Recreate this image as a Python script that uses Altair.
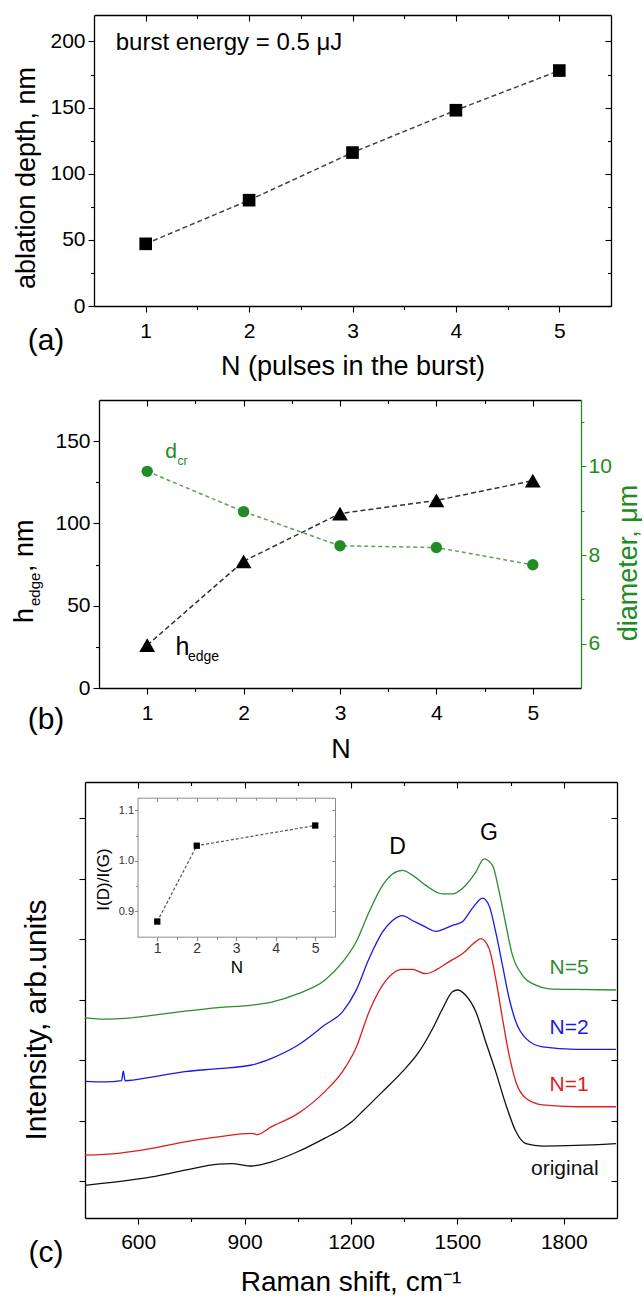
import altair as alt
import pandas as pd

FONT = "Liberation Sans"
BLACK = "#000000"
GREEN = "#218c21"

# ---------------- panel (a): ablation depth vs pulses in the burst
n_a = [1, 2, 3, 4, 5]
depth_a = [47, 80, 116, 148, 178]

# ---------------- panel (b): edge height and crater diameter
n_b = [1, 2, 3, 4, 5]
h_edge = [26, 77, 106, 114, 126]
d_cr = [9.89, 8.98, 8.21, 8.17, 7.78]

# ---------------- panel (c): Raman spectra (offset, arb. units)
orig_x = [450, 544, 638, 732, 826, 863, 920, 976, 1051, 1126, 1176, 1202, 1232, 1289,
          1345, 1392, 1430, 1458, 1486, 1500, 1524, 1552, 1580, 1608, 1637, 1665, 1693,
          1740, 1834, 1947]
orig_y = [-0.07, -0.01, 0.07, 0.18, 0.28, 0.29, 0.25, 0.32, 0.49, 0.71, 0.87, 0.98, 1.15,
          1.48, 1.81, 2.14, 2.52, 2.85, 3.13, 3.16, 3.07, 2.80, 2.30, 1.81, 1.26, 0.82,
          0.62, 0.58, 0.59, 0.62]

n1_x = [450, 544, 638, 732, 826, 920, 934, 976, 1051, 1126, 1176, 1214, 1251, 1289, 1317,
        1345, 1373, 1411, 1439, 1477, 1514, 1552, 1566, 1589, 1608, 1627, 1646, 1665,
        1693, 1740, 1834, 1947]
n1_y = [0.43, 0.46, 0.54, 0.65, 0.73, 0.79, 0.77, 0.90, 1.12, 1.48, 1.81, 2.20, 2.80,
        3.24, 3.43, 3.50, 3.50, 3.43, 3.49, 3.63, 3.76, 3.96, 4.01, 3.85, 3.35, 2.69,
        2.08, 1.64, 1.37, 1.26, 1.23, 1.23]

n2_x = [450, 506, 553, 558, 563, 638, 732, 826, 920, 976, 1051, 1126, 1176, 1214, 1251,
        1289, 1317, 1345, 1373, 1411, 1439, 1458, 1486, 1514, 1542, 1571, 1589, 1608,
        1627, 1646, 1665, 1693, 1740, 1834, 1947]
n2_y = [1.65, 1.64, 1.66, 1.82, 1.66, 1.72, 1.81, 1.86, 1.92, 2.03, 2.25, 2.58, 2.80,
        3.15, 3.68, 4.12, 4.31, 4.39, 4.31, 4.20, 4.13, 4.16, 4.23, 4.29, 4.51, 4.68,
        4.56, 4.12, 3.57, 3.02, 2.63, 2.36, 2.22, 2.18, 2.18]

n5_x = [450, 506, 563, 638, 732, 826, 920, 976, 1051, 1126, 1176, 1214, 1251, 1289, 1317,
        1345, 1373, 1411, 1458, 1486, 1514, 1552, 1575, 1599, 1618, 1637, 1655, 1684,
        1721, 1759, 1834, 1947]
n5_y = [2.70, 2.68, 2.69, 2.74, 2.81, 2.87, 2.91, 2.96, 3.10, 3.32, 3.62, 3.95, 4.45,
        4.89, 5.08, 5.14, 5.06, 4.89, 4.75, 4.75, 4.84, 5.11, 5.33, 5.22, 4.78, 4.23,
        3.74, 3.40, 3.24, 3.18, 3.17, 3.16]

series_names = ["original", "N=1", "N=2", "N=5"]
series_colors = ["#111111", "#e01c1c", "#1a1ae0", "#2e8b2e"]
label_x = [1803, 1815, 1815, 1815]
label_y = [0.20, 1.59, 2.53, 3.52]

band_names = ["D", "G"]
band_x = [1331, 1589]
band_y = [5.52, 5.76]

# inset: I(D)/I(G) ratio
n_in = [1, 2, 5]
ratio_in = [0.88, 1.03, 1.07]

# ---------------- plot area sizes (px)
A_W, A_H = 526, 291
B_W, B_H = 496, 288
C_W, C_H = 532, 436


def lin(domain, rng):
    return alt.Scale(domain=domain, range=rng, nice=False, zero=False)


def axis(orient, offset=0.0, domain=False, values=None, tick=0.0, labels=False,
         color=BLACK, lab_size=21, lab_pad=3, fmt="d", lab_color=None, dwidth=1.3):
    kw = dict(orient=orient, offset=offset, domain=domain, grid=False, title=None,
              minExtent=0, labels=labels, ticks=tick > 0)
    if domain:
        kw.update(domainColor=color, domainWidth=dwidth)
    if values is not None:
        kw["values"] = values
    if tick > 0:
        kw.update(tickSize=tick, tickColor=color, tickWidth=1.1)
    if labels:
        kw.update(labelFont=FONT, labelFontSize=lab_size, labelColor=lab_color or color,
                  labelPadding=lab_pad, format=fmt, labelFlush=False, labelOverlap=False)
    return alt.Axis(**kw)


def carrier(df, xf, yf, xsc, ysc, xax, yax):
    return alt.Chart(df).mark_point(opacity=0, size=1).encode(
        x=alt.X(xf, type="quantitative", scale=xsc, axis=xax),
        y=alt.Y(yf, type="quantitative", scale=ysc, axis=yax),
    )


ONE = pd.DataFrame({"k": [0]})


def label(text, x, y, size, angle=0, color=BLACK, align="center", baseline="middle"):
    return alt.Chart(ONE).mark_text(
        text=text, font=FONT, fontSize=size, angle=angle, color=color,
        align=align, baseline=baseline,
    ).encode(x=alt.value(x), y=alt.value(y))


def anchor(y0, y1):
    return alt.Chart(ONE).mark_rule(color="white", strokeWidth=1).encode(
        x=alt.value(-84.5), x2=alt.value(-84.5), y=alt.value(y0), y2=alt.value(y1))


def resolved(layers, w, h):
    return alt.layer(*layers).resolve_scale(
        x="independent", y="independent", color="independent"
    ).resolve_axis(x="independent", y="independent").properties(width=w, height=h)


# ======================= panel (a)
df_a = pd.DataFrame({"n": n_a, "depth": depth_a})
AL = 9  # left frame offset inside the plot area
xs_a = lambda: lin([0.5, 5.5], [AL, A_W])
ys_a = lambda: lin([0, 220], [A_H, 0])
xa_major = [1, 2, 3, 4, 5]
xa_minor = [1.5, 2.5, 3.5, 4.5]
ya_major = [0, 50, 100, 150, 200]
ya_minor = [25, 75, 125, 175]

a_line = alt.Chart(df_a).mark_line(color="#444444", strokeWidth=1.5, strokeDash=[5, 3]).encode(
    x=alt.X("n:Q", scale=xs_a(), axis=axis("bottom", domain=True, values=xa_major, tick=6,
                                             labels=True, lab_pad=8)),
    y=alt.Y("depth:Q", scale=ys_a(), axis=axis("left", offset=-AL, domain=True, values=ya_major,
                                                 tick=6, labels=True, lab_pad=3)),
)
a_pts = alt.Chart(df_a).mark_point(shape="square", filled=True, size=160, color=BLACK, opacity=1).encode(
    x=alt.X("n:Q", scale=xs_a(), axis=axis("top", domain=True)),
    y=alt.Y("depth:Q", scale=ys_a(), axis=axis("right", domain=True)),
)
a_c1 = carrier(df_a, "n", "depth", xs_a(), ys_a(),
               axis("top", offset=-6, values=xa_major, tick=6),
               axis("right", offset=-6, values=ya_major, tick=6))
a_c2 = carrier(df_a, "n", "depth", xs_a(), ys_a(),
               axis("bottom", values=xa_minor, tick=3.5),
               axis("left", offset=-AL, values=ya_minor, tick=3.5))
a_c3 = carrier(df_a, "n", "depth", xs_a(), ys_a(),
               axis("top", offset=-3.5, values=xa_minor, tick=3.5),
               axis("right", offset=-3.5, values=ya_minor, tick=3.5))
a_note = alt.Chart(pd.DataFrame({"n": [0.71], "v": [199], "t": ["burst energy = 0.5 \u03bcJ"]})).mark_text(
    font=FONT, fontSize=24, align="left", baseline="middle", color=BLACK
).encode(x=alt.X("n:Q", scale=xs_a(), axis=None), y=alt.Y("v:Q", scale=ys_a(), axis=None), text="t:N")

panel_a = resolved([
    anchor(-14, 383), a_line, a_pts, a_c1, a_c2, a_c3, a_note,
    label("ablation depth, nm", -58, 163, 27, angle=270),
    label("(a)", -39, 326, 30),
    label("N (pulses in the burst)", 268, 352, 27),
], A_W, A_H)

# ======================= panel (b)
df_b = pd.DataFrame({"n": n_b, "h": h_edge, "d": d_cr})
BL = 14
xs_b = lambda: lin([0.5, 5.5], [BL, B_W])
ysl_b = lambda: lin([0, 175], [B_H, 0])
ysr_b = lambda: lin([5, 11.5], [B_H, 0])
yb_major = [0, 50, 100, 150]
yb_minor = [25, 75, 125]

b_hline = alt.Chart(df_b).mark_line(color="#333333", strokeWidth=1.5, strokeDash=[5, 3]).encode(
    x=alt.X("n:Q", scale=xs_b(), axis=axis("bottom", domain=True, values=xa_major, tick=6,
                                             labels=True, lab_pad=8)),
    y=alt.Y("h:Q", scale=ysl_b(), axis=axis("left", offset=-BL, domain=True, values=yb_major,
                                              tick=6, labels=True, lab_pad=3)),
)
b_hpts = alt.Chart(df_b).mark_point(shape="triangle-up", filled=True, size=250, color=BLACK, opacity=1).encode(
    x=alt.X("n:Q", scale=xs_b(), axis=axis("top", domain=True)),
    y=alt.Y("h:Q", scale=ysl_b(), axis=None),
)
b_c1 = carrier(df_b, "n", "h", xs_b(), ysl_b(),
               axis("top", offset=-6, values=xa_major, tick=6),
               axis("left", offset=-BL, values=yb_minor, tick=3.5))
b_c2 = carrier(df_b, "n", "h", xs_b(), ysl_b(),
               axis("bottom", values=xa_minor, tick=3.5), None)
b_c3 = carrier(df_b, "n", "h", xs_b(), ysl_b(),
               axis("top", offset=-3.5, values=xa_minor, tick=3.5), None)
b_dline = alt.Chart(df_b).mark_line(color="#5f9f5f", strokeWidth=1.5, strokeDash=[4, 3]).encode(
    x=alt.X("n:Q", scale=xs_b(), axis=None),
    y=alt.Y("d:Q", scale=ysr_b(), axis=axis("right", domain=True, values=[6, 8, 10], tick=5,
                                              labels=True, lab_pad=2, color=GREEN)),
)
b_dpts = alt.Chart(df_b).mark_point(shape="circle", filled=True, size=130, color=GREEN, opacity=1).encode(
    x=alt.X("n:Q", scale=xs_b(), axis=None),
    y=alt.Y("d:Q", scale=ysr_b(), axis=axis("right", values=[7, 9, 11], tick=3, color=GREEN)),
)
# curve names with subscripts
big = pd.DataFrame({"n": [1.186, 1.293], "v": [139.8, 20.2], "t": ["d", "h"],
                    "c": [GREEN, BLACK], "s": [21, 25]})
small = pd.DataFrame({"n": [1.314, 1.423], "v": [135.7, 16.2], "t": ["cr", "edge"],
                      "c": [GREEN, BLACK], "s": [12, 14]})


def name_layer(df):
    return alt.Chart(df).mark_text(font=FONT, align="left", baseline="alphabetic").encode(
        x=alt.X("n:Q", scale=xs_b(), axis=None),
        y=alt.Y("v:Q", scale=ysl_b(), axis=None),
        text="t:N",
        color=alt.Color("c:N", scale=None),
        size=alt.Size("s:Q", scale=None),
    )


panel_b = resolved([
    anchor(0, 380), b_hline, b_dline, b_hpts, b_dpts, b_c1, b_c2, b_c3,
    name_layer(big), name_layer(small),
    label("h", -52, 223, 27, angle=270, align="left", baseline="alphabetic"),
    label("edge", -45, 206, 15, angle=270, align="left", baseline="alphabetic"),
    label(", nm", -52, 172, 27, angle=270, align="left", baseline="alphabetic"),
    label("diameter, \u03bcm", 552, 163, 27, angle=270, color=GREEN, baseline="alphabetic"),
    label("(b)", -39, 320, 30),
    label("N", 256, 350, 27),
], B_W, B_H)

# ======================= panel (c)
rows = []
for name, xs, ys in [("original", orig_x, orig_y), ("N=1", n1_x, n1_y),
                     ("N=2", n2_x, n2_y), ("N=5", n5_x, n5_y)]:
    rows += [{"cm": a, "val": b, "series": name} for a, b in zip(xs, ys)]
spec = pd.DataFrame(rows)
lab_c = pd.DataFrame({"cm": label_x, "val": label_y, "series": series_names})
bands = pd.DataFrame({"cm": band_x, "val": band_y, "t": band_names})
ins = pd.DataFrame({"n": n_in, "r": ratio_in})

xs_c = lambda: lin([450, 1950], [0, C_W])
ys_c = lambda: lin([-0.61, 6.6], [C_H, 0])
xc_major = [600, 900, 1200, 1500, 1800]
xc_minor = [750, 1050, 1350, 1650]
yc_major = [0, 1, 2, 3, 4, 5, 6]
color_c = lambda: alt.Scale(domain=series_names, range=series_colors)

c_lines = alt.Chart(spec).mark_line(strokeWidth=1.3, interpolate="monotone").encode(
    x=alt.X("cm:Q", scale=xs_c(), axis=axis("bottom", domain=True, values=xc_major, tick=6,
                                              labels=True, lab_pad=7)),
    y=alt.Y("val:Q", scale=ys_c(), axis=axis("left", domain=True, values=yc_major, tick=6)),
    color=alt.Color("series:N", scale=color_c(), legend=None),
)
c_c0 = carrier(lab_c, "cm", "val", xs_c(), ys_c(), axis("top", domain=True), axis("right", domain=True))
c_c1 = carrier(lab_c, "cm", "val", xs_c(), ys_c(),
               axis("top", offset=-6, values=xc_major, tick=6),
               axis("right", offset=-6, values=yc_major, tick=6))
c_c2 = carrier(lab_c, "cm", "val", xs_c(), ys_c(), axis("bottom", values=xc_minor, tick=3.5), None)
c_c3 = carrier(lab_c, "cm", "val", xs_c(), ys_c(),
               axis("top", offset=-3.5, values=xc_minor, tick=3.5), None)
c_labels = alt.Chart(lab_c).mark_text(font=FONT, fontSize=21, align="center", baseline="middle").encode(
    x=alt.X("cm:Q", scale=xs_c(), axis=None),
    y=alt.Y("val:Q", scale=ys_c(), axis=None),
    text="series:N",
    color=alt.Color("series:N", scale=color_c(), legend=None),
)
c_bands = alt.Chart(bands).mark_text(font=FONT, fontSize=23, align="center", baseline="middle",
                                     color=BLACK).encode(
    x=alt.X("cm:Q", scale=xs_c(), axis=None),
    y=alt.Y("val:Q", scale=ys_c(), axis=None),
    text="t:N",
)

# inset frame inside panel (c)
IL, IR, IT, IB = 52.5, 250.0, 15.7, 154.7
IGRAY = "#8a8a8a"
xs_i = lambda: lin([0.5, 5.5], [IL, IR])
ys_i = lambda: lin([0.85, 1.125], [IB, IT])
yi_major = [0.9, 1.0, 1.1]
yi_minor = [0.95, 1.05]

i_line = alt.Chart(ins).mark_line(color="#555555", strokeWidth=1.2, strokeDash=[3, 2]).encode(
    x=alt.X("n:Q", scale=xs_i(), axis=axis("bottom", offset=IB - C_H, domain=True, values=xa_major,
                                             tick=4, labels=True, lab_size=14, lab_pad=1,
                                             color=IGRAY, lab_color="#333333", dwidth=1)),
    y=alt.Y("r:Q", scale=ys_i(), axis=axis("left", offset=-IL, domain=True, values=yi_major,
                                             tick=3, labels=True, lab_size=11, lab_pad=1, fmt=".1f",
                                             color=IGRAY, lab_color="#333333", dwidth=1)),
)
i_pts = alt.Chart(ins).mark_point(shape="square", filled=True, size=40, color=BLACK, opacity=1).encode(
    x=alt.X("n:Q", scale=xs_i(), axis=axis("top", offset=-IT, domain=True, color=IGRAY, dwidth=1)),
    y=alt.Y("r:Q", scale=ys_i(), axis=axis("right", offset=IR - C_W, domain=True, color=IGRAY, dwidth=1)),
)
i_c1 = carrier(ins, "n", "r", xs_i(), ys_i(),
               axis("top", offset=-IT - 4, values=xa_major, tick=4, color=IGRAY),
               axis("right", offset=IR - C_W - 3, values=yi_major, tick=3, color=IGRAY))
i_c2 = carrier(ins, "n", "r", xs_i(), ys_i(),
               axis("bottom", offset=IB - C_H, values=xa_minor, tick=2.5, color=IGRAY),
               axis("left", offset=-IL, values=yi_minor, tick=2, color=IGRAY))
i_c3 = carrier(ins, "n", "r", xs_i(), ys_i(),
               axis("top", offset=-IT - 2.5, values=xa_minor, tick=2.5, color=IGRAY),
               axis("right", offset=IR - C_W - 2, values=yi_minor, tick=2, color=IGRAY))

panel_c = resolved([
    c_lines, c_c0, c_c1, c_c2, c_c3, c_labels, c_bands,
    i_line, i_pts, i_c1, i_c2, i_c3,
    anchor(0, 10),
    label("I(D)/I(G)", 19, 97.5, 17, angle=270),
    label("N", 152, 186, 17),
    label("Intensity, arb.units", -48, 238, 30, angle=270),
    label("(c)", -39, 471, 30),
    label("Raman shift, cm\u207b\u00b9", 266, 501, 28),
], C_W, C_H)

chart = alt.vconcat(panel_a, panel_b, panel_c, spacing=0, padding=0).configure_view(stroke=None)

chart.save("out.html", embed_options={"renderer": "svg", "actions": False})
